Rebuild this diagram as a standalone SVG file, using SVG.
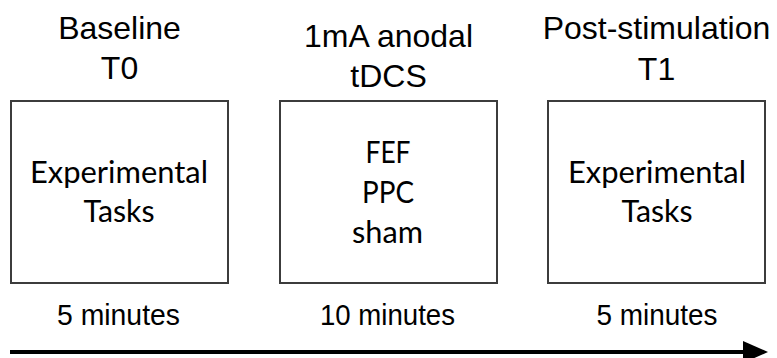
<svg xmlns="http://www.w3.org/2000/svg" width="777" height="358" viewBox="0 0 777 358">
  <style>
    .box { fill: #ffffff; stroke: #3c3c3c; stroke-width: 2; }
    .head { font-family: "Liberation Sans", Arial, sans-serif; font-size: 32px; fill: #000; text-anchor: middle; }
    .body { font-family: Lato, "Open Sans", sans-serif; font-size: 31px; fill: #000; text-anchor: middle; }
    .dur { font-family: "Liberation Sans", Arial, sans-serif; font-size: 30px; fill: #000; text-anchor: middle; }
    .axis { stroke: #000; stroke-width: 4; fill: none; }
  </style>
  <rect width="777" height="358" fill="#ffffff"/>

  <g id="baseline">
    <text class="head" x="119.5" y="39">Baseline</text>
    <text class="head" x="119.5" y="79">T0</text>
    <rect class="box" x="11" y="101" width="217" height="182"/>
    <text class="body" x="119" y="183" textLength="178" lengthAdjust="spacingAndGlyphs">Experimental</text>
    <text class="body" x="119" y="222" textLength="71" lengthAdjust="spacingAndGlyphs">Tasks</text>
    <text class="dur" x="118.5" y="325" textLength="123" lengthAdjust="spacingAndGlyphs">5 minutes</text>
  </g>

  <g id="stimulation">
    <text class="head" x="388.5" y="47">1mA anodal</text>
    <text class="head" x="388.5" y="87">tDCS</text>
    <rect class="box" x="280" y="101" width="217" height="182"/>
    <text class="body" x="388" y="163" textLength="45" lengthAdjust="spacingAndGlyphs">FEF</text>
    <text class="body" x="388" y="203" textLength="52" lengthAdjust="spacingAndGlyphs">PPC</text>
    <text class="body" x="387.5" y="242.5" textLength="71" lengthAdjust="spacingAndGlyphs">sham</text>
    <text class="dur" x="387.5" y="325" textLength="135" lengthAdjust="spacingAndGlyphs">10 minutes</text>
  </g>

  <g id="post-stimulation">
    <text class="head" x="656.5" y="39">Post-stimulation</text>
    <text class="head" x="656.5" y="80">T1</text>
    <rect class="box" x="548" y="101" width="217" height="182"/>
    <text class="body" x="657" y="183" textLength="178" lengthAdjust="spacingAndGlyphs">Experimental</text>
    <text class="body" x="657" y="222" textLength="71" lengthAdjust="spacingAndGlyphs">Tasks</text>
    <text class="dur" x="657" y="325" textLength="121" lengthAdjust="spacingAndGlyphs">5 minutes</text>
  </g>

  <g id="connectors">
    <line class="axis" x1="10" y1="352" x2="746" y2="352"/>
    <path d="M743,341 L768,352 L743,363 Z" fill="#000"/>
  </g>
</svg>
